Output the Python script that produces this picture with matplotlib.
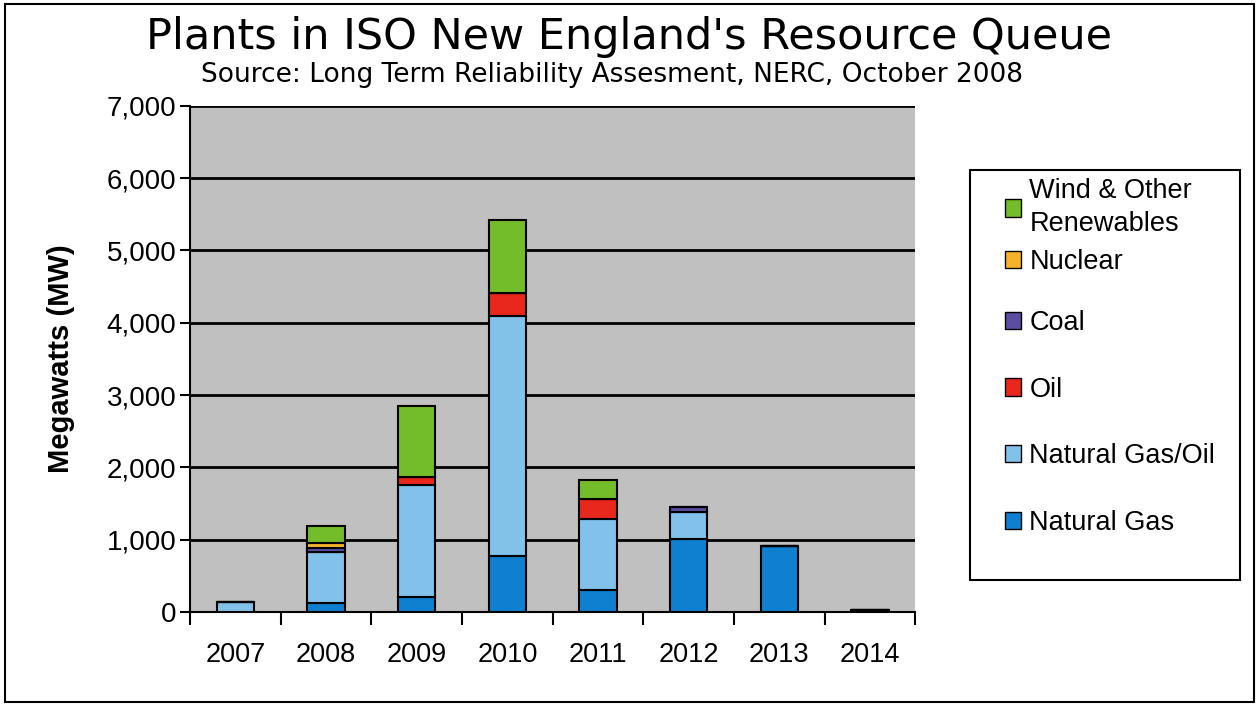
import matplotlib.pyplot as plt
from matplotlib.patches import Patch, Rectangle
import numpy as np

years = ["2007", "2008", "2009", "2010", "2011", "2012", "2013", "2014"]
natural_gas = [0, 130, 210, 775, 300, 1010, 915, 25]
natural_gas_oil = [140, 700, 1545, 3320, 985, 370, 0, 0]
oil = [0, 0, 115, 315, 275, 0, 0, 0]
coal = [0, 55, 0, 0, 0, 70, 0, 0]
nuclear = [0, 70, 0, 0, 0, 0, 0, 0]
wind_other = [0, 235, 980, 1010, 265, 0, 0, 0]

series = [
    ("Natural Gas", natural_gas, "#0f7fcf"),
    ("Natural Gas/Oil", natural_gas_oil, "#82c1e9"),
    ("Oil", oil, "#e8271d"),
    ("Coal", coal, "#5b4ea0"),
    ("Nuclear", nuclear, "#f6b22b"),
    ("Wind & Other\nRenewables", wind_other, "#74bd2a"),
]

plt.rcParams["font.family"] = ["Liberation Sans", "DejaVu Sans"]

fig = plt.figure(figsize=(12.59, 7.05), dpi=100)
ax = fig.add_axes([0.151, 0.132, 0.576, 0.718])
ax.set_facecolor("#c0c0c0")

x = np.arange(len(years))
bottom = np.zeros(len(years))
for name, vals, color in series:
    vals = np.array(vals, dtype=float)
    ax.bar(x, vals, width=0.41, bottom=bottom, color=color, edgecolor="black",
           linewidth=1.5, zorder=3)
    bottom += vals

ax.set_xlim(-0.5, len(years) - 0.5)
ax.set_ylim(0, 7000)
ax.set_yticks(np.arange(0, 7001, 1000))
ax.set_yticklabels([f"{v:,}" for v in range(0, 7001, 1000)])
ax.set_xticks(x)
ax.set_xticklabels(years)
ax.set_xticks(np.arange(-0.5, len(years)), minor=True)
ax.tick_params(axis="x", which="major", length=0, pad=22, labelsize=19.5)
ax.tick_params(axis="x", which="minor", length=9, width=1.5, direction="out")
ax.tick_params(axis="y", length=7, width=1.5, labelsize=20, pad=3)
ax.yaxis.grid(True, color="black", linewidth=2, zorder=0)
ax.set_axisbelow(True)
for side in ["top", "right"]:
    ax.spines[side].set_visible(False)
ax.spines["left"].set_linewidth(1.5)
ax.spines["bottom"].set_linewidth(1.5)
ax.set_ylabel("Megawatts (MW)", fontsize=21, fontweight="bold")
ax.yaxis.set_label_coords(-0.159, 0.5)

fig.text(0.5, 0.947, "Plants in ISO New England's Resource Queue",
         ha="center", va="center", fontsize=31, family="DejaVu Sans")
fig.text(0.486, 0.893, "Source: Long Term Reliability Assesment, NERC, October 2008",
         ha="center", va="center", fontsize=19, family="DejaVu Sans")

# legend box
fig.patches.append(Rectangle((970 / 1259, 1 - 580 / 705), 270 / 1259, 410 / 705,
                             transform=fig.transFigure, facecolor="white",
                             edgecolor="black", linewidth=1.5))
handles = [Patch(facecolor=c, edgecolor="black", label=n) for n, v, c in series[::-1]]
leg_kw = dict(loc="upper left", frameon=False, fontsize=19.5, handlelength=0.6,
              handleheight=0.6, handletextpad=0.3, borderaxespad=0, borderpad=0)
leg_top = fig.legend(handles=handles[:2], bbox_to_anchor=(1005 / 1259, 1 - 178 / 705),
                     labelspacing=0.45, **leg_kw)
leg_top.get_texts()[0].set_linespacing(1.35)
fig.legend(handles=handles[2:], bbox_to_anchor=(1005 / 1259, 1 - 310 / 705),
           labelspacing=1.5, **leg_kw)

# outer border
fig.patches.append(Rectangle((0.004, 0.004), 0.992, 0.99, transform=fig.transFigure,
                             fill=False, edgecolor="black", linewidth=1.5))

fig.savefig("out.png", dpi=100)
